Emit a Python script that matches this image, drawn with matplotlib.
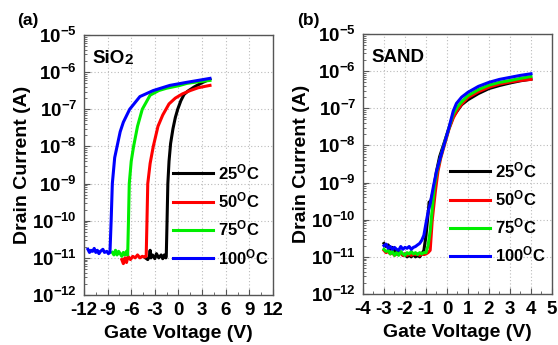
import math
import matplotlib
matplotlib.use("Agg")
import matplotlib.pyplot as plt
from matplotlib.ticker import MultipleLocator, LogLocator, FuncFormatter, NullFormatter

plt.rcParams['font.family'] = ['Liberation Sans', 'DejaVu Sans']
plt.rcParams['font.weight'] = 'bold'
plt.rcParams['axes.unicode_minus'] = False
plt.rcParams['mathtext.fontset'] = 'custom'
plt.rcParams['mathtext.rm'] = 'Liberation Sans:bold'
plt.rcParams['mathtext.it'] = 'Liberation Sans:bold'
plt.rcParams['mathtext.bf'] = 'Liberation Sans:bold'

# ---- (a) SiO2 dielectric ----
sio2_v_25 = [-4.2, -3.9, -3.7, -3.6, -3.5, -3.3, -3.0, -2.8, -2.5, -2.2, -2.0, -1.8, -1.6,
             -1.55, -1.45, -1.35, -1.2, -1.0, -0.7, -0.4, -0.1, 0.3, 0.7, 1.2, 2.0, 3.0, 4.0]
sio2_i_25 = [1.0e-11, 0.9e-11, 1.1e-11, 1.6e-11, 1.0e-11, 1.2e-11, 0.95e-11, 1.3e-11, 1.0e-11,
             1.2e-11, 0.95e-11, 1.2e-11, 1.0e-11,
             1.1e-11, 1e-10, 1e-9, 4e-9, 1.2e-8, 3e-8, 6e-8, 1e-7, 1.7e-7, 2.5e-7, 3.1e-7,
             4e-7, 5.2e-7, 6.5e-7]

sio2_v_50 = [-7.2, -7.0, -6.8, -6.6, -6.4, -6.1, -5.8, -5.5, -5.2, -4.9, -4.6, -4.3, -4.1,
             -4.0, -3.9, -3.6, -3.2, -2.6, -2.0, -1.2, -0.4, 0.5, 1.5, 2.5, 3.5, 4.0]
sio2_i_50 = [9e-12, 7e-12, 1.0e-11, 7.5e-12, 1.1e-11, 0.9e-11, 1.1e-11, 1.0e-11, 1.2e-11,
             1.0e-11, 1.1e-11, 1.05e-11, 1.1e-11,
             1e-10, 1e-9, 3.5e-9, 1e-8, 3.5e-8, 7e-8, 1.4e-7, 2e-7, 2.6e-7, 3.2e-7, 3.8e-7,
             4.2e-7, 4.4e-7]

sio2_v_75 = [-8.4, -8.2, -8.0, -7.8, -7.6, -7.4, -7.2, -7.0, -6.8, -6.6, -6.45,
             -6.35, -6.25, -6.0, -5.7, -5.2, -4.6, -3.6, -2.5, -1.5, 0.0, 1.1, 2.5, 4.0]
sio2_i_75 = [1.4e-11, 1.2e-11, 1.6e-11, 1.2e-11, 1.5e-11, 1.3e-11, 1.1e-11, 1.4e-11, 1.2e-11,
             1.5e-11, 1.2e-11,
             1e-10, 1e-9, 4e-9, 1e-8, 3.5e-8, 1e-7, 2.4e-7, 3.2e-7, 3.7e-7, 4.3e-7, 5e-7,
             5.5e-7, 6e-7]

sio2_v_100 = [-11.5, -11.3, -11.1, -10.9, -10.7, -10.5, -10.3, -10.1, -9.9, -9.6, -9.4, -9.1,
              -8.9, -8.7, -8.55, -8.4, -8.1, -7.8, -7.4, -7.0, -6.2, -4.9, -3.2, -1.1, 1.0,
              2.5, 4.0]
sio2_i_100 = [1.7e-11, 1.4e-11, 1.6e-11, 1.5e-11, 1.8e-11, 1.4e-11, 1.6e-11, 1.3e-11, 1.5e-11,
              1.7e-11, 1.4e-11, 1.5e-11, 1.3e-11, 1.4e-11, 1e-10, 1e-9, 5e-9, 1e-8, 2.5e-8,
              4.5e-8, 1e-7, 2.2e-7, 3.2e-7, 4.4e-7, 5.3e-7, 6e-7, 6.8e-7]

# ---- (b) SAND dielectric ----
sand_v_25 = [-3.0, -2.9, -2.8, -2.7, -2.6, -2.5, -2.4, -2.3, -2.2, -2.1, -2.0, -1.9, -1.8,
             -1.7, -1.6, -1.5, -1.4, -1.3, -1.2, -1.1, -1.0, -0.9, -0.85, -0.8, -0.65, -0.5,
             -0.35, -0.15, 0.1, 0.3, 0.52, 0.7, 1.0, 1.5, 2.0, 2.5, 3.0, 3.5, 4.0]
sand_i_25 = [2.3e-11, 1.9e-11, 2.1e-11, 1.6e-11, 1.8e-11, 1.4e-11, 1.5e-11, 1.2e-11, 1.3e-11,
             1.1e-11, 1.2e-11, 1.0e-11, 1.1e-11, 1.0e-11, 1.2e-11, 1.0e-11, 1.1e-11, 1.0e-11,
             1.2e-11, 1.5e-11, 3.7e-11, 1.4e-10, 3e-10, 2.7e-10, 6e-10, 2e-9, 5e-9, 1.1e-8,
             3e-8, 6e-8, 9e-8, 1.25e-7, 1.7e-7, 2.5e-7, 3.4e-7, 4.1e-7, 4.8e-7, 5.5e-7, 6.1e-7]

sand_v_50 = [-3.0, -2.9, -2.8, -2.7, -2.6, -2.5, -2.4, -2.3, -2.2, -2.1, -2.0, -1.9, -1.8,
             -1.7, -1.6, -1.5, -1.4, -1.3, -1.2, -1.1, -1.0, -0.9, -0.8, -0.7, -0.55, -0.43,
             -0.3, -0.15, 0.1, 0.3, 0.5, 0.7, 1.0, 1.5, 2.0, 2.5, 3.0, 3.5, 4.0]
sand_i_50 = [1.5e-11, 1.3e-11, 1.4e-11, 1.2e-11, 1.3e-11, 1.1e-11, 1.2e-11, 1.15e-11, 1.3e-11,
             1.1e-11, 1.2e-11, 1.1e-11, 1.25e-11, 1.1e-11, 1.2e-11, 1.15e-11, 1.2e-11, 1.1e-11,
             1.2e-11, 1.15e-11, 1.2e-11, 1.3e-11, 1.5e-11, 1e-10, 6e-10, 2e-9, 4.5e-9, 9e-9,
             2.8e-8, 5.5e-8, 9e-8, 1.3e-7, 1.95e-7, 2.8e-7, 3.7e-7, 4.5e-7, 5.1e-7, 5.6e-7, 6.0e-7]

sand_v_75 = [-3.0, -2.9, -2.8, -2.7, -2.6, -2.5, -2.4, -2.3, -2.2, -2.1, -2.0, -1.9, -1.8,
             -1.7, -1.6, -1.5, -1.4, -1.3, -1.2, -1.1, -1.0, -0.9, -0.8, -0.75, -0.6, -0.48,
             -0.3, -0.15, 0.1, 0.3, 0.5, 0.7, 1.0, 1.5, 2.0, 2.5, 3.0, 3.5, 4.0]
sand_i_75 = [1.6e-11, 1.4e-11, 1.5e-11, 1.2e-11, 1.4e-11, 1.1e-11, 1.3e-11, 1.1e-11, 1.4e-11,
             1.2e-11, 1.1e-11, 1.3e-11, 1.2e-11, 1.4e-11, 1.2e-11, 1.3e-11, 1.15e-11, 1.3e-11,
             1.2e-11, 1.3e-11, 1.3e-11, 2e-11, 5e-11, 1e-10, 8e-10, 2e-9, 5e-9, 1e-8,
             3e-8, 7e-8, 1.1e-7, 1.5e-7, 2.2e-7, 3.2e-7, 4.2e-7, 5e-7, 5.6e-7, 6.4e-7, 7.2e-7]

sand_v_100 = [-3.0, -2.9, -2.8, -2.7, -2.6, -2.5, -2.4, -2.3, -2.2, -2.1, -2.0, -1.9, -1.8,
              -1.7, -1.6, -1.5, -1.4, -1.3, -1.2, -1.1, -1.0, -0.9, -0.8, -0.65, -0.5, -0.35,
              -0.15, 0.1, 0.3, 0.45, 0.7, 1.0, 1.5, 2.0, 2.5, 3.0, 3.5, 4.0]
sand_i_100 = [2.0e-11, 2.2e-11, 1.7e-11, 1.9e-11, 1.6e-11, 1.8e-11, 1.6e-11, 1.5e-11, 1.9e-11,
              1.6e-11, 1.8e-11, 1.7e-11, 1.9e-11, 1.6e-11, 1.8e-11, 1.9e-11, 2.1e-11, 2.3e-11,
              2.8e-11, 3.8e-11, 8e-11, 1.6e-10, 2.7e-10, 7.6e-10, 2e-9, 4e-9, 1e-8, 3.1e-8,
              8.5e-8, 1.35e-7, 2e-7, 2.7e-7, 3.9e-7, 5e-7, 6e-7, 6.8e-7, 7.7e-7, 8.5e-7]

temps = ["25", "50", "75", "100"]
colors = ["#000000", "#ff0000", "#00ee00", "#0000ff"]


def style_axes(ax, xlim, major, minor, label_text):
    ax.set_yscale("log")
    ax.set_xlim(*xlim)
    ax.set_ylim(1e-12, 1e-5)
    ax.xaxis.set_major_locator(MultipleLocator(major))
    ax.xaxis.set_minor_locator(MultipleLocator(minor))
    ax.yaxis.set_major_locator(LogLocator(base=10, numticks=20))
    ax.yaxis.set_minor_locator(LogLocator(base=10, subs=range(2, 10), numticks=20))
    ax.yaxis.set_major_formatter(FuncFormatter(lambda v, p: r"$10^{%d}$" % round(math.log10(v))))
    ax.yaxis.set_minor_formatter(NullFormatter())
    ax.xaxis.set_major_formatter(FuncFormatter(lambda v, p: "%d" % round(v)))
    ax.tick_params(which="major", direction="in", length=4, width=0.8, labelsize=13.5, pad=5,
                   color="#555555")
    ax.tick_params(which="minor", direction="in", length=2, width=0.6, color="#555555")
    ax.grid(True, which="major", linestyle=(0, (1, 2)), color="#bbbbbb", linewidth=0.8)
    for s in ax.spines.values():
        s.set_color("#555555")
        s.set_linewidth(1.0)
    ax.set_xlabel("Gate Voltage (V)", fontsize=14, fontweight="bold", labelpad=4)
    ax.set_ylabel("Drain Current (A)", fontsize=14, fontweight="bold", labelpad=1)
    ax.text(0.045, 0.91, label_text, transform=ax.transAxes, fontsize=13.5,
            fontweight="bold", va="center", ha="left")


fig = plt.figure(figsize=(5.58, 3.45), dpi=100)
ax1 = fig.add_axes([0.1505, 0.1449, 0.3387, 0.7536])
ax2 = fig.add_axes([0.6505, 0.1478, 0.3387, 0.7536])

sio2_v = [sio2_v_25, sio2_v_50, sio2_v_75, sio2_v_100]
sio2_i = [sio2_i_25, sio2_i_50, sio2_i_75, sio2_i_100]
sand_v = [sand_v_25, sand_v_50, sand_v_75, sand_v_100]
sand_i = [sand_i_25, sand_i_50, sand_i_75, sand_i_100]

for v, i, t, c in zip(sio2_v, sio2_i, temps, colors):
    ax1.plot(v, i, color=c, lw=2.2, label=r"%s$^{\mathrm{O}}$C" % t)
for v, i, t, c in zip(sand_v, sand_i, temps, colors):
    ax2.plot(v, i, color=c, lw=2.2, label=r"%s$^{\mathrm{O}}$C" % t)

style_axes(ax1, (-12, 12), 3, 1.5, "SiO")
style_axes(ax2, (-4, 5), 1, 0.5, "SAND")
# small "2" next to SiO
t1 = ax1.texts[0]
ax1.annotate("2", xy=(1, 0), xycoords=t1, fontsize=11, fontweight="bold",
             va="bottom", ha="left")

for ax, x0, y0 in [(ax1, 0.47, 0.108), (ax2, 0.46, 0.112)]:
    ax.legend(loc="lower left", bbox_to_anchor=(x0, y0), frameon=False, fontsize=12,
              handlelength=2.4, handletextpad=0.3, labelspacing=0.5, borderpad=0,
              borderaxespad=0)

fig.text(17 / 558, 1 - 20 / 345, "(a)", fontsize=12.5, fontweight="bold", va="center")
fig.text(297 / 558, 1 - 20 / 345, "(b)", fontsize=12.5, fontweight="bold", va="center")

fig.savefig("out.png", dpi=100)
